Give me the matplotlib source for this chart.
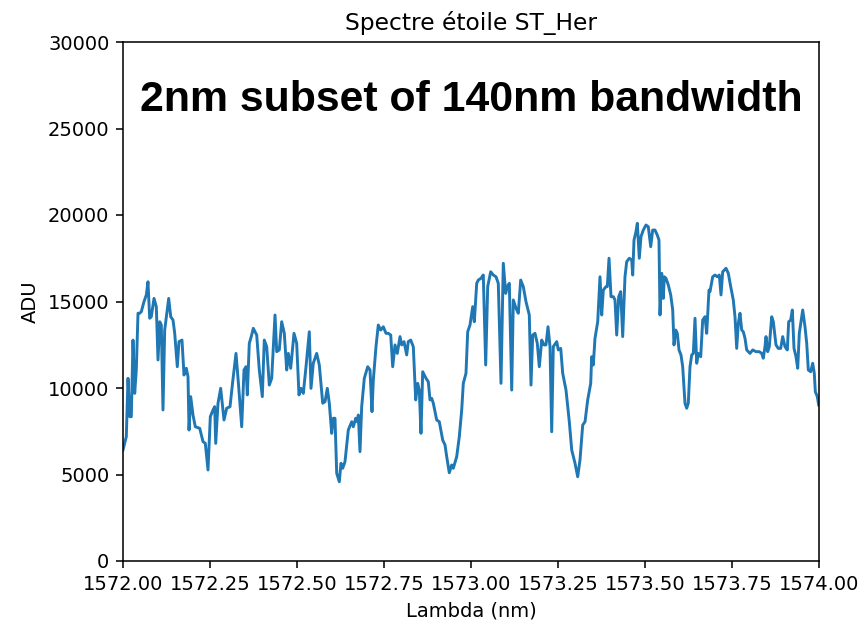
import matplotlib
matplotlib.use("Agg")
import matplotlib.pyplot as plt

# Wavelength samples (nm) and detector counts (ADU) for the ST_Her spectrum window
wavelength_nm = [
    1572.0000, 1572.0095, 1572.0144, 1572.0193, 1572.0239, 1572.0287, 1572.0336, 1572.0382,
    1572.0431, 1572.0480, 1572.0526, 1572.0603, 1572.0670, 1572.0718, 1572.0767, 1572.0813,
    1572.0891, 1572.0957, 1572.1006, 1572.1055, 1572.1101, 1572.1149, 1572.1198, 1572.1313,
    1572.1371, 1572.1437, 1572.1486, 1572.1560, 1572.1609, 1572.1695, 1572.1753, 1572.1819,
    1572.1868, 1572.1897, 1572.1945, 1572.2011, 1572.2078, 1572.2204, 1572.2299, 1572.2365,
    1572.2443, 1572.2509, 1572.2586, 1572.2635, 1572.2664, 1572.2730, 1572.2807, 1572.2902,
    1572.2980, 1572.3075, 1572.3152, 1572.3247, 1572.3313, 1572.3411, 1572.3477, 1572.3534,
    1572.3572, 1572.3629, 1572.3698, 1572.3744, 1572.3842, 1572.3917, 1572.4003, 1572.4060,
    1572.4129, 1572.4204, 1572.4273, 1572.4368, 1572.4417, 1572.4491, 1572.4560, 1572.4635,
    1572.4704, 1572.4750, 1572.4819, 1572.4914, 1572.4991, 1572.5057, 1572.5115, 1572.5181,
    1572.5259, 1572.5353, 1572.5402, 1572.5468, 1572.5566, 1572.5641, 1572.5739, 1572.5805,
    1572.5871, 1572.5928, 1572.5997, 1572.6043, 1572.6092, 1572.6141, 1572.6216, 1572.6264,
    1572.6313, 1572.6379, 1572.6474, 1572.6572, 1572.6618, 1572.6687, 1572.6733, 1572.6762,
    1572.6810, 1572.6859, 1572.6934, 1572.7032, 1572.7098, 1572.7155, 1572.7193, 1572.7270,
    1572.7336, 1572.7405, 1572.7480, 1572.7557, 1572.7624, 1572.7693, 1572.7750, 1572.7816,
    1572.7882, 1572.7960, 1572.8009, 1572.8075, 1572.8152, 1572.8198, 1572.8267, 1572.8342,
    1572.8411, 1572.8468, 1572.8514, 1572.8563, 1572.8612, 1572.8707, 1572.8773, 1572.8822,
    1572.8871, 1572.8917, 1572.9014, 1572.9089, 1572.9187, 1572.9253, 1572.9302, 1572.9376,
    1572.9445, 1572.9491, 1572.9589, 1572.9664, 1572.9733, 1572.9779, 1572.9856, 1572.9905,
    1572.9971, 1573.0049, 1573.0095, 1573.0164, 1573.0210, 1573.0287, 1573.0353, 1573.0422,
    1573.0480, 1573.0566, 1573.0641, 1573.0718, 1573.0784, 1573.0862, 1573.0928, 1573.0997,
    1573.1043, 1573.1101, 1573.1170, 1573.1216, 1573.1293, 1573.1359, 1573.1428, 1573.1503,
    1573.1580, 1573.1675, 1573.1724, 1573.1773, 1573.1839, 1573.1905, 1573.1963, 1573.2032,
    1573.2098, 1573.2155, 1573.2213, 1573.2270, 1573.2319, 1573.2365, 1573.2463, 1573.2509,
    1573.2578, 1573.2635, 1573.2730, 1573.2825, 1573.2894, 1573.2989, 1573.3066, 1573.3132,
    1573.3210, 1573.3276, 1573.3353, 1573.3440, 1573.3468, 1573.3514, 1573.3563, 1573.3641,
    1573.3707, 1573.3756, 1573.3802, 1573.3879, 1573.3917, 1573.3966, 1573.4023, 1573.4089,
    1573.4138, 1573.4187, 1573.4244, 1573.4302, 1573.4359, 1573.4425, 1573.4474, 1573.4549,
    1573.4618, 1573.4647, 1573.4684, 1573.4741, 1573.4779, 1573.4836, 1573.4885, 1573.4951,
    1573.5029, 1573.5095, 1573.5164, 1573.5221, 1573.5287, 1573.5353, 1573.5402, 1573.5431,
    1573.5480, 1573.5526, 1573.5555, 1573.5603, 1573.5670, 1573.5739, 1573.5796, 1573.5833,
    1573.5882, 1573.5928, 1573.5977, 1573.6034, 1573.6083, 1573.6149, 1573.6198, 1573.6244,
    1573.6293, 1573.6342, 1573.6388, 1573.6437, 1573.6486, 1573.6532, 1573.6601, 1573.6658,
    1573.6724, 1573.6773, 1573.6839, 1573.6868, 1573.6945, 1573.7011, 1573.7078, 1573.7135,
    1573.7184, 1573.7233, 1573.7328, 1573.7394, 1573.7463, 1573.7537, 1573.7586, 1573.7635,
    1573.7681, 1573.7730, 1573.7779, 1573.7825, 1573.7874, 1573.7922, 1573.8017, 1573.8095,
    1573.8190, 1573.8284, 1573.8353, 1573.8399, 1573.8448, 1573.8477, 1573.8526, 1573.8572,
    1573.8641, 1573.8687, 1573.8764, 1573.8830, 1573.8899, 1573.8957, 1573.9023, 1573.9089,
    1573.9129, 1573.9187, 1573.9233, 1573.9282, 1573.9339, 1573.9388, 1573.9434, 1573.9532,
    1573.9598, 1573.9647, 1573.9693, 1573.9761, 1573.9819, 1573.9865, 1573.9894, 1573.9951,
    1573.9991,
]

adu = [
    6420, 7190, 10560, 8340, 8340, 12770, 9690, 11040,
    14320, 14320, 14410, 14990, 15380, 16140, 14030, 14120,
    15180, 14700, 11620, 13830, 13640, 8730, 13350, 15180,
    14120, 13930, 13160, 11230, 12680, 12770, 10750, 11140,
    10650, 7570, 9500, 8440, 7760, 7670, 6900, 6800,
    5260, 8340, 8730, 8920, 6800, 9120, 9980, 8150,
    8830, 8920, 10360, 12000, 10360, 7760, 11040, 11230,
    9600, 12580, 13060, 13450, 13060, 11040, 9500, 12770,
    12390, 10170, 10560, 14220, 12100, 12200, 13830, 13160,
    11040, 12000, 11140, 13160, 12580, 9600, 9980, 9690,
    11230, 13250, 9980, 11430, 12000, 11330, 9120, 9210,
    9980, 9120, 7380, 8250, 8250, 5070, 4580, 5650,
    5360, 5740, 7570, 8050, 7760, 8250, 8050, 8440,
    6320, 8920, 10560, 11230, 11040, 8630, 10460, 12390,
    13640, 13350, 13540, 13160, 13160, 13060, 11230, 12490,
    12000, 12970, 12490, 12680, 11910, 12680, 12770, 12390,
    9310, 10270, 9880, 7380, 10940, 10560, 10360, 9310,
    9400, 9120, 8150, 8050, 6990, 6710, 6030, 5100,
    5550, 5360, 6030, 7190, 8730, 10270, 10850, 13250,
    13640, 14700, 13830, 16050, 16240, 16340, 16530, 11330,
    15860, 16720, 16530, 16430, 16050, 10270, 17210, 15470,
    15860, 16050, 9880, 15090, 14610, 14320, 16240, 15860,
    14990, 14220, 10170, 13060, 13160, 12580, 11230, 12770,
    12490, 12490, 13540, 12390, 7470, 12390, 12680, 12200,
    12290, 10850, 9880, 8050, 6420, 5650, 4870, 5840,
    7860, 8050, 9310, 10270, 11810, 11330, 12870, 13830,
    16430, 14220, 15660, 15860, 15860, 17500, 15280, 15280,
    15090, 13060, 15280, 15570, 12970, 16430, 17300, 17500,
    17400, 16530, 18550, 19040, 19520, 17500, 18750, 19130,
    19420, 19320, 18170, 19130, 19130, 18840, 18550, 14220,
    16630, 15180, 16430, 16340, 15950, 15380, 14510, 12490,
    13350, 13160, 12200, 11910, 11230, 9120, 8830, 9120,
    11230, 11910, 12000, 14030, 11430, 12000, 11810, 13930,
    14120, 13160, 15660, 15570, 16430, 16530, 16430, 16530,
    15380, 16720, 16920, 16630, 15860, 15090, 14120, 12290,
    13740, 14320, 13350, 13250, 12870, 12200, 12000, 12200,
    12100, 12100, 12000, 11720, 12390, 12970, 12100, 12390,
    14120, 13830, 12490, 12290, 12290, 12970, 12390, 12200,
    13830, 13930, 14510, 12290, 11810, 11140, 13160, 14510,
    13540, 12580, 11040, 10940, 11430, 10850, 9790, 9500,
    9020,
]

x_ticks = [1572.00, 1572.25, 1572.50, 1572.75, 1573.00, 1573.25, 1573.50, 1573.75, 1574.00]
y_ticks = [0, 5000, 10000, 15000, 20000, 25000, 30000]

DPI = 140
fig = plt.figure(figsize=(859 / DPI, 620 / DPI), dpi=DPI)
ax = fig.add_axes([123 / 859, 1 - 561 / 620, (819 - 123) / 859, (561 - 42) / 620])

ax.plot(wavelength_nm, adu, color="#1f77b4", linewidth=1.5)

ax.set_xlim(1572.0, 1574.0)
ax.set_ylim(0, 30000)
ax.set_xticks(x_ticks)
ax.set_xticklabels([f"{t:.2f}" for t in x_ticks])
ax.set_yticks(y_ticks)

ax.set_title("Spectre étoile ST_Her")
ax.set_xlabel("Lambda (nm)")
ax.set_ylabel("ADU")

ax.text(0.5, 0.889, "2nm subset of 140nm bandwidth", transform=ax.transAxes,
        ha="center", va="center", fontsize=22, fontweight="bold",
        family="Liberation Sans", color="black")

fig.savefig("out.png", dpi=DPI)
